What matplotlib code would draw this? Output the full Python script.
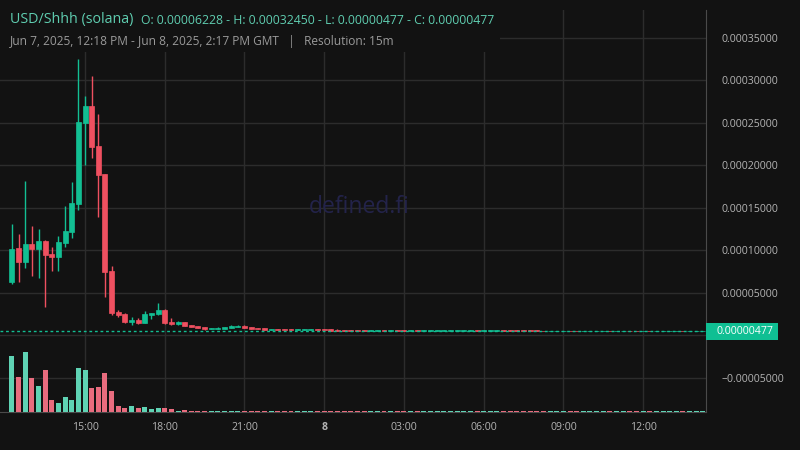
"""
USD/Shhh (solana) 15m candles, dark theme, price on right axis + volume overlay.
"""
import datetime as dt
import numpy as np
import matplotlib
matplotlib.use('Agg')
import matplotlib.pyplot as plt
import matplotlib.dates as mdates
import matplotlib.transforms as mtransforms
from matplotlib.patches import Rectangle
from matplotlib.ticker import FixedLocator, FuncFormatter

plt.rcParams['font.family'] = ['Open Sans', 'DejaVu Sans']

# ---- data (prices in units of 1e-5 USD) ----
start = dt.datetime(2025, 6, 7, 12, 15)
n_candles = 105

opens = [6.23, 10.27, 8.67, 10.75, 10.16, 11.10, 9.57, 9.25, 10.90, 12.20,
         15.50, 25.00, 26.98, 22.27, 18.98, 7.57, 2.74, 2.51, 1.60, 1.76,
         1.45, 2.39, 2.51, 2.98, 1.60, 1.33, 1.56, 1.21, 1.09, 0.98,
         0.74, 0.74, 0.74, 0.86, 0.98, 1.09, 0.98, 0.86, 0.86, 0.62,
         0.74, 0.74, 0.74, 0.62, 0.66, 0.66, 0.74, 0.74, 0.74, 0.62,
         0.62, 0.62, 0.62, 0.60, 0.52, 0.52, 0.62, 0.52, 0.62, 0.62,
         0.52, 0.62, 0.52, 0.52, 0.52, 0.52, 0.52, 0.52, 0.52, 0.52,
         0.62, 0.52, 0.52, 0.52, 0.62, 0.62, 0.62, 0.62, 0.62, 0.62,
         0.477, 0.477, 0.477, 0.477, 0.477, 0.477, 0.477, 0.477, 0.477, 0.477,
         0.477, 0.477, 0.477, 0.477, 0.477, 0.477, 0.477, 0.477, 0.477, 0.477,
         0.477, 0.477, 0.477, 0.477, 0.477]
closes = [10.16, 8.67, 10.75, 10.16, 11.10, 9.49, 9.25, 10.98, 12.27, 15.57,
          25.10, 26.98, 22.20, 18.86, 7.49, 2.67, 2.35, 1.57, 1.84, 1.45,
          2.51, 2.63, 2.98, 1.45, 1.33, 1.60, 1.09, 0.98, 0.86, 0.74,
          0.86, 0.86, 0.98, 1.09, 1.09, 0.86, 0.74, 0.74, 0.62, 0.70,
          0.62, 0.62, 0.62, 0.74, 0.74, 0.74, 0.66, 0.66, 0.51, 0.51,
          0.51, 0.51, 0.51, 0.51, 0.62, 0.62, 0.51, 0.62, 0.51, 0.51,
          0.62, 0.51, 0.62, 0.62, 0.62, 0.62, 0.62, 0.62, 0.62, 0.62,
          0.52, 0.62, 0.62, 0.62, 0.52, 0.52, 0.52, 0.52, 0.52, 0.48,
          0.477, 0.477, 0.477, 0.477, 0.477, 0.477, 0.477, 0.477, 0.477, 0.477,
          0.477, 0.477, 0.477, 0.477, 0.477, 0.477, 0.477, 0.477, 0.477, 0.477,
          0.477, 0.477, 0.477, 0.477, 0.477]
highs = [13.10, 11.92, 18.16, 12.86, 12.50, 11.20, 10.39, 11.69, 15.20, 18.04,
         32.45, 28.16, 30.50, 26.04, 18.98, 8.16, 3.00, 2.59, 2.15, 2.00,
         2.82, 2.63, 3.80, 3.10, 2.04, 1.72, 1.56, 1.21, 1.09, 0.98,
         0.86, 0.98, 0.98, 1.17, 1.21, 1.21, 0.98, 0.86, 0.86, 0.70,
         0.74, 0.74, 0.74, 0.78, 0.74, 0.74, 0.74, 0.74, 0.74, 0.74,
         0.62, 0.62, 0.62, 0.62, 0.62, 0.62, 0.62, 0.62, 0.62, 0.62,
         0.62, 0.62, 0.62, 0.62, 0.62, 0.62, 0.62, 0.62, 0.62, 0.62,
         0.62, 0.62, 0.62, 0.62, 0.62, 0.62, 0.62, 0.62, 0.62, 0.62,
         0.477, 0.477, 0.477, 0.477, 0.477, 0.477, 0.477, 0.477, 0.477, 0.477,
         0.477, 0.477, 0.477, 0.477, 0.477, 0.477, 0.477, 0.477, 0.477, 0.477,
         0.477, 0.477, 0.477, 0.477, 0.477]
lows = [6.08, 6.31, 7.92, 7.02, 6.78, 3.37, 7.60, 7.60, 10.43, 11.50,
        14.80, 20.00, 20.90, 13.96, 4.55, 2.39, 2.19, 1.49, 1.21, 1.33,
        1.45, 1.92, 2.39, 1.33, 1.25, 1.21, 1.05, 0.98, 0.86, 0.62,
        0.74, 0.74, 0.74, 0.86, 0.98, 0.86, 0.74, 0.74, 0.62, 0.62,
        0.62, 0.62, 0.62, 0.62, 0.66, 0.66, 0.66, 0.66, 0.51, 0.51,
        0.51, 0.51, 0.51, 0.51, 0.51, 0.51, 0.51, 0.51, 0.51, 0.51,
        0.51, 0.51, 0.51, 0.51, 0.51, 0.51, 0.51, 0.51, 0.51, 0.51,
        0.51, 0.51, 0.51, 0.51, 0.51, 0.51, 0.51, 0.51, 0.51, 0.477,
        0.477, 0.477, 0.477, 0.477, 0.477, 0.477, 0.477, 0.477, 0.477, 0.477,
        0.477, 0.477, 0.477, 0.477, 0.477, 0.477, 0.477, 0.477, 0.477, 0.477,
        0.477, 0.477, 0.477, 0.477, 0.477]
# flat candles after ~08:00: red/green flag read from the little coloured dashes
flat_up = [0, 1, 1, 1, 0, 0, 1, 1, 1, 1, 0, 1, 1, 0, 0, 1, 0, 1, 1, 1,
           1, 0, 1, 1, 1]

volumes = [55.7, 34.7, 59.7, 33.7, 25.7, 41.7, 11.7, 8.7, 14.7, 11.7,
           43.7, 41.7, 23.7, 24.7, 38.7, 20.7, 5.7, 4.0, 6.0, 4.0,
           5.0, 3.0, 4.0, 4.0, 3.0, 1.5, 2.0, 1.0, 1.0, 1.0,
           0.8, 0.8, 0.8, 0.8, 0.8, 0.8, 0.8, 0.8, 0.8, 0.8,
           0.8, 0.8, 0.8, 0.8, 0.8, 0.8, 0.8, 0.8, 0.8, 0.8,
           0.8, 0.8, 0.8, 0.8, 0.8, 0.8, 0.8, 0.8, 0.8, 0.8,
           0.8, 0.8, 0.8, 0.8, 0.8, 0.8, 0.8, 0.8, 0.8, 0.8,
           0.8, 0.8, 0.8, 0.8, 0.8, 0.8, 0.8, 0.8, 0.8, 0.8,
           0.8, 0.8, 0.8, 0.8, 0.8, 0.8, 0.8, 0.8, 0.8, 0.8,
           0.8, 0.8, 0.8, 0.8, 0.8, 0.8, 0.8, 0.8, 0.8, 0.8,
           0.8, 0.8, 0.8, 0.8, 0.8]

last_price = 0.00000477
price_ticks = [-0.00005, 0.0, 0.00005, 0.0001, 0.00015, 0.0002, 0.00025, 0.0003, 0.00035]
time_ticks = ['15:00', '18:00', '21:00', '8', '03:00', '06:00', '09:00', '12:00']
title = 'USD/Shhh (solana)'
ohlc_text = 'O: 0.00006228 - H: 0.00032450 - L: 0.00000477 - C: 0.00000477'
sub_text = 'Jun 7, 2025, 12:18 PM - Jun 8, 2025, 2:17 PM GMT   |   Resolution: 15m'

# ---- styling ----
BG = '#121212'
GRID = '#2c2c2c'
UP = '#12bf93'
DOWN = '#ef5060'
UP_VOL = '#5fd3b4'
DOWN_VOL = '#e86c7e'
TEXT = '#b4b4b4'

o = np.array(opens) * 1e-5
c = np.array(closes) * 1e-5
h = np.array(highs) * 1e-5
l = np.array(lows) * 1e-5
times = [start + dt.timedelta(minutes=15 * i) for i in range(n_candles)]
x = mdates.date2num(times)
up = c > o
up[80:] = np.array(flat_up, dtype=bool)
up[c < o] = False

fig = plt.figure(figsize=(8, 4.5), dpi=100, facecolor=BG)
ax = fig.add_axes([0.0, 0.0844, 0.8825, 0.8934])
ax.set_facecolor(BG)

width = 15 / (24 * 60) * 0.75
colors = [UP if u else DOWN for u in up]
ax.vlines(x, l, h, colors=colors, linewidth=1, zorder=3)
ax.bar(x, np.abs(c - o), bottom=np.minimum(o, c), width=width,
       color=colors, edgecolor=colors, linewidth=0.5, zorder=4)

ax.axhline(last_price, color=UP, linestyle=(0, (2, 2)), linewidth=1, zorder=5)

# volume overlay on its own scale
ax2 = ax.twinx()
vol_colors = [UP_VOL if u else DOWN_VOL for u in up]
ax2.bar(x, volumes, width=width, color=vol_colors, linewidth=0, zorder=2)
ax2.set_ylim(0, max(volumes) * 6.73)
ax2.set_yticks([])
for s in ax2.spines.values():
    s.set_visible(False)

t0 = mdates.date2num(dt.datetime(2025, 6, 7, 11, 48))
t1 = mdates.date2num(dt.datetime(2025, 6, 8, 14, 22))
ax.set_xlim(t0, t1)
ax.set_ylim(-0.0000902, 0.0003827)

tick_times = [dt.datetime(2025, 6, 7, 15), dt.datetime(2025, 6, 7, 18),
              dt.datetime(2025, 6, 7, 21), dt.datetime(2025, 6, 8, 0),
              dt.datetime(2025, 6, 8, 3), dt.datetime(2025, 6, 8, 6),
              dt.datetime(2025, 6, 8, 9), dt.datetime(2025, 6, 8, 12)]
ax.set_xticks(mdates.date2num(tick_times))
ax.set_xticklabels(time_ticks)
for lab in ax.get_xticklabels():
    if lab.get_text() == '8':
        lab.set_fontweight('bold')
        lab.set_color('#e0e0e0')

ax.yaxis.tick_right()
ax.yaxis.set_major_locator(FixedLocator(price_ticks))
ax.yaxis.set_major_formatter(FuncFormatter(
    lambda v, p: '' if abs(v) < 1e-12 else f'{v:.8f}'.replace('-', '\u2212')))
ax.tick_params(axis='both', length=0, colors=TEXT, labelsize=7.6)
ax.tick_params(axis='y', pad=11)
ax.tick_params(axis='x', pad=7)
for lab in ax.get_yticklabels():
    lab.set_horizontalalignment('left')

ax.grid(True, color=GRID, linewidth=1)
ax.set_axisbelow(True)
for side in ['left', 'top']:
    ax.spines[side].set_visible(False)
ax.spines['right'].set_color('#4a4a4a')
ax.spines['bottom'].set_color('#4a4a4a')

# last price tag on the axis
trans = mtransforms.blended_transform_factory(ax.transAxes, ax.transData)
ax.add_patch(Rectangle((1.0, last_price - 1.0e-5), 0.102, 2.0e-5, transform=trans,
                       facecolor='#0fbf93', edgecolor='none', clip_on=False, zorder=9))
ax.text(1.0142, last_price, '0.00000477', transform=trans, ha='left', va='center',
        fontsize=7.6, color='white', clip_on=False, zorder=10)

# watermark
ax.text(0.508, 0.51, 'defined.fi', transform=ax.transAxes, ha='center', va='center',
        fontsize=16.5, color='#23234a', zorder=1)

# header (sits on a background strip that hides the grid behind it)
fig.add_artist(Rectangle((0, 1 - 52 / 450), 500 / 800, 52 / 450, transform=fig.transFigure,
                         facecolor=BG, edgecolor='none', zorder=2))
fig.text(10 / 800, 1 - 20 / 450, title, color='#5fcdb0', fontsize=10.3, va='center', zorder=3)
fig.text(141 / 800, 1 - 20 / 450, ohlc_text, color='#5fcdb0', fontsize=8.8, va='center', zorder=3)
fig.text(10 / 800, 1 - 41 / 450, sub_text, color='#9a9a9a', fontsize=8.6, va='center', zorder=3)

fig.savefig('out.png', dpi=100, facecolor=BG)
